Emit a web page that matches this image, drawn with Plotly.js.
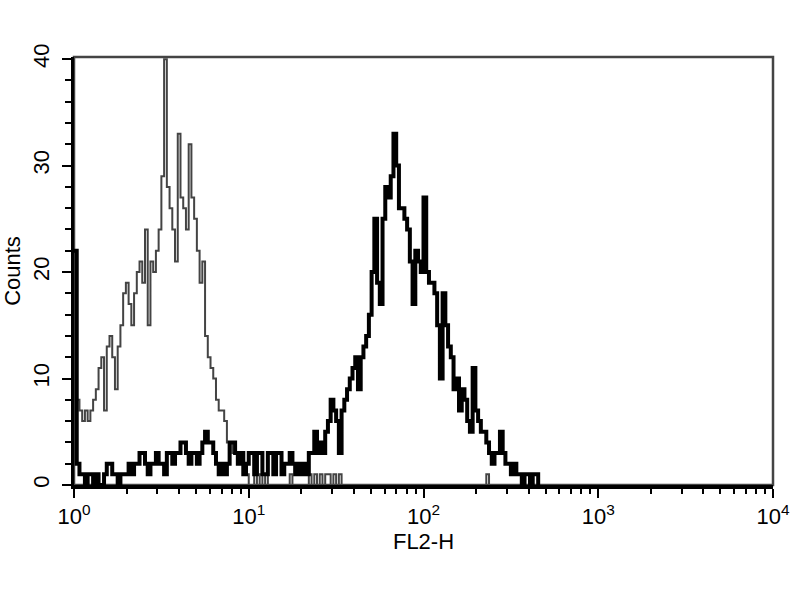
<!DOCTYPE html>
<html>
<head>
<meta charset="utf-8">
<script src="https://cdn.plot.ly/plotly-3.0.1.min.js"></script>
<style>html,body{margin:0;padding:0;background:#fff;}#chart{width:800px;height:600px;}</style>
</head>
<body>
<div id="chart"></div>
<script>
// Instrument scale: 256 channels spread over 4 log decades
const CHANNELS = 256;
const DECADES = 4;

// Counts per channel, control (thin gray histogram), starting at channel 0
const controlCounts = [
  9, 8, 7, 6, 7, 6, 7, 8, 9, 11,
  12, 7, 13, 14, 12, 9, 13, 15, 18, 19,
  17, 15, 18, 20, 21, 19, 24, 15, 21, 20,
  22, 24, 29, 40, 28, 26, 24, 21, 33, 27,
  26, 24, 32, 27, 25, 22, 19, 21, 14, 12,
  11, 10, 8, 7, 7, 6, 4, 4, 3, 3,
  2, 2, 1, 1, 0, 0, 1, 0, 1, 0,
  1, 0, 0, 0, 0, 0, 0, 0, 0, 1,
  0, 0, 0, 0, 0, 0, 1, 0, 1, 0,
  1, 0, 1, 1, 0, 1, 0, 1, 0, 0,
  0, 0, 0, 0, 0, 0, 0, 0, 0, 0,
  0, 0, 0, 0, 0, 0, 0, 0, 0, 0,
  0, 0, 0, 0, 0, 0, 0, 0, 0, 0,
  0, 0, 0, 0, 0, 0, 0, 0, 0, 0,
  0, 0, 0, 0, 0, 0, 0, 0, 0, 0,
  0, 1, 0
];

// Counts per channel, stained sample (thick black histogram), starting at channel 0
const stainedCounts = [
  22, 2, 1, 1, 0, 1, 1, 0, 1, 0,
  0, 1, 2, 2, 1, 1, 0, 1, 1, 1,
  2, 1, 2, 2, 3, 3, 2, 1, 2, 2,
  3, 2, 2, 1, 3, 3, 2, 3, 3, 4,
  4, 3, 2, 3, 3, 2, 3, 4, 5, 4,
  4, 3, 2, 1, 2, 1, 2, 4, 4, 3,
  2, 3, 1, 2, 3, 3, 1, 3, 3, 1,
  1, 3, 3, 1, 3, 3, 1, 2, 2, 3,
  2, 1, 2, 1, 2, 1, 3, 3, 5, 3,
  4, 3, 5, 6, 8, 7, 6, 3, 7, 8,
  9, 10, 11, 12, 9, 12, 13, 14, 16, 20,
  25, 19, 17, 25, 28, 27, 29, 33, 30, 26,
  26, 25, 24, 21, 17, 22, 21, 20, 27, 20,
  19, 19, 18, 15, 10, 18, 15, 13, 12, 9,
  10, 7, 9, 8, 6, 5, 11, 7, 6, 5,
  5, 4, 3, 2, 3, 3, 5, 3, 2, 2,
  1, 2, 1, 1, 0, 1, 1, 0, 1, 1,
  0
];

// Axis ticks
const xTickVals = [1, 10, 100, 1000, 10000];
const xTickText = ['10<sup>0</sup>', '10<sup>1</sup>', '10<sup>2</sup>', '10<sup>3</sup>', '10<sup>4</sup>'];
const xMinorVals = [2, 3, 4, 5, 6, 7, 8, 9,
                    20, 30, 40, 50, 60, 70, 80, 90,
                    200, 300, 400, 500, 600, 700, 800, 900,
                    2000, 3000, 4000, 5000, 6000, 7000, 8000, 9000];
const yTickVals = [0, 10, 20, 30, 40];
const yTickText = ['0', '10', '20', '30', '40'];
const yMinorVals = [2, 4, 6, 8, 12, 14, 16, 18, 22, 24, 26, 28, 32, 34, 36, 38];

function channelEdges(n) {
  const xs = [];
  for (let i = 0; i < n; i++) xs.push(Math.pow(10, i * DECADES / CHANNELS));
  return xs;
}

const FONT = 'Liberation Sans, Arial, sans-serif';

const traces = [
  {
    x: channelEdges(controlCounts.length),
    y: controlCounts,
    type: 'scatter', mode: 'lines',
    line: {shape: 'hv', color: '#444444', width: 2},
    hoverinfo: 'skip', showlegend: false
  },
  {
    x: channelEdges(stainedCounts.length),
    y: stainedCounts,
    type: 'scatter', mode: 'lines',
    line: {shape: 'hv', color: '#000000', width: 4},
    hoverinfo: 'skip', showlegend: false
  }
];

const layout = {
  width: 800, height: 600,
  margin: {l: 74, r: 27, t: 57, b: 115},
  paper_bgcolor: '#ffffff', plot_bgcolor: '#ffffff',
  font: {family: FONT, size: 22, color: '#000'},
  xaxis: {
    type: 'log', range: [0, 4],
    tickmode: 'array', tickvals: xTickVals, ticktext: xTickText,
    ticks: 'outside', ticklen: 9, tickwidth: 2, tickcolor: '#000',
    minor: {tickmode: 'array', tickvals: xMinorVals, ticks: 'outside', ticklen: 5, tickwidth: 2, tickcolor: '#000', showgrid: false},
    showgrid: false, zeroline: false,
    showline: true, linewidth: 3.5, linecolor: '#000',
    tickfont: {family: FONT, size: 22, color: '#000'},
    title: {text: 'FL2-H', font: {family: FONT, size: 22, color: '#000'}, standoff: 2}
  },
  yaxis: {
    range: [0, 40.2],
    tickmode: 'array', tickvals: yTickVals, ticktext: yTickText, tickangle: -90,
    ticks: 'outside', ticklen: 9, tickwidth: 2, tickcolor: '#000',
    minor: {tickmode: 'array', tickvals: yMinorVals, ticks: 'outside', ticklen: 6, tickwidth: 2, tickcolor: '#000', showgrid: false},
    showgrid: false, zeroline: false,
    showline: true, linewidth: 3.5, linecolor: '#000',
    tickfont: {family: FONT, size: 22, color: '#000'},
    ticklabelstandoff: 4,
    title: {text: 'Counts', font: {family: FONT, size: 22, color: '#000'}, standoff: 6}
  },
  shapes: [
    {type: 'rect', xref: 'paper', yref: 'paper', x0: 0, x1: 1, y0: 0, y1: 1,
     line: {color: '#444', width: 2.5}, layer: 'below'}
  ]
};

Plotly.newPlot('chart', traces, layout, {displayModeBar: false, staticPlot: true});
</script>
</body>
</html>
